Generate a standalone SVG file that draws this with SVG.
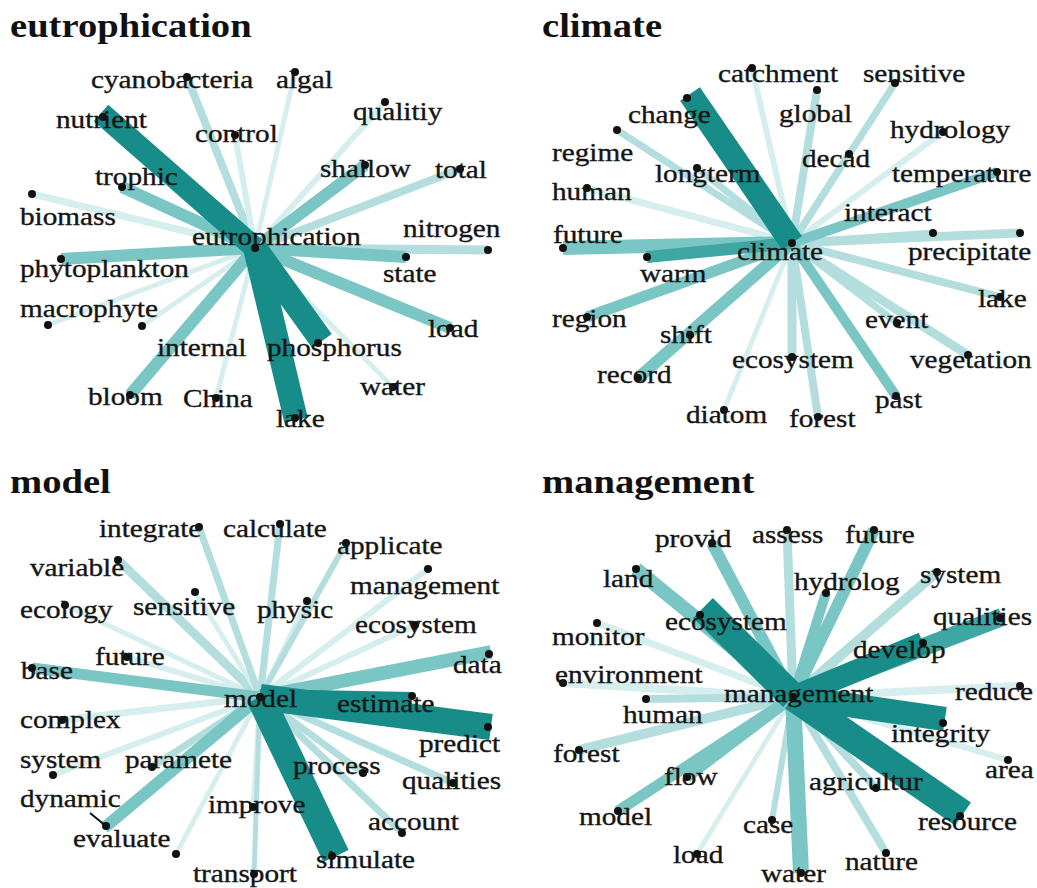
<svg xmlns="http://www.w3.org/2000/svg" width="1037" height="888" viewBox="0 0 1037 888">
<style>
text{font-family:"Liberation Serif","Times New Roman",serif;font-size:25px;fill:#151515;stroke:#151515;stroke-width:0.35}
.t{font-size:33px;font-weight:bold;fill:#111;stroke:none}
line{stroke-linecap:butt}
.D{stroke:#178c88}
.M2{stroke:#3ea7a4}
.M{stroke:#7ac6c5}
.L{stroke:#b4dede}
.X{stroke:#d7eeee}
circle{fill:#111}
</style>
<rect width="1037" height="888" fill="#fff"/>
<g id="titles">
<text class="t" transform="translate(10,37) scale(1.17,1)">eutrophication</text>
<text class="t" transform="translate(542,37) scale(1.17,1)">climate</text>
<text class="t" transform="translate(10,493) scale(1.17,1)">model</text>
<text class="t" transform="translate(542,493) scale(1.17,1)">management</text>
</g>
<g id="connectors">
<!-- Q1 eutrophication center 255,248 -->
<line class="X" x1="255" y1="248" x2="32" y2="194" stroke-width="7"/>
<line class="L" x1="255" y1="248" x2="187" y2="77" stroke-width="8"/>
<line class="X" x1="255" y1="248" x2="235" y2="135" stroke-width="6"/>
<line class="X" x1="255" y1="248" x2="295" y2="72" stroke-width="5"/>
<line class="X" x1="255" y1="248" x2="385" y2="102" stroke-width="6"/>
<line class="L" x1="255" y1="248" x2="460" y2="169" stroke-width="8"/>
<line class="L" x1="255" y1="248" x2="488" y2="250" stroke-width="9"/>
<line class="X" x1="255" y1="248" x2="48" y2="325" stroke-width="5"/>
<line class="X" x1="255" y1="248" x2="142" y2="326" stroke-width="5"/>
<line class="X" x1="255" y1="248" x2="216" y2="398" stroke-width="5"/>
<line class="X" x1="255" y1="248" x2="393" y2="387" stroke-width="5"/>
<line class="M" x1="255" y1="248" x2="122" y2="187" stroke-width="12"/>
<line class="M" x1="255" y1="248" x2="365" y2="165" stroke-width="12"/>
<line class="M" x1="255" y1="248" x2="61" y2="259" stroke-width="12"/>
<line class="M" x1="255" y1="248" x2="130" y2="395" stroke-width="12"/>
<line class="M" x1="255" y1="248" x2="406" y2="257" stroke-width="12"/>
<line class="M" x1="255" y1="248" x2="450" y2="328" stroke-width="12"/>
<line class="D" x1="255" y1="248" x2="101" y2="113" stroke-width="22"/>
<line class="D" x1="255" y1="248" x2="322" y2="341" stroke-width="24"/>
<line class="D" x1="255" y1="248" x2="296" y2="420" stroke-width="24"/>
<!-- Q2 climate center 792,243 -->
<line class="X" x1="792" y1="243" x2="943" y2="132" stroke-width="6"/>
<line class="L" x1="792" y1="243" x2="895" y2="83" stroke-width="7"/>
<line class="L" x1="792" y1="243" x2="849" y2="154" stroke-width="7"/>
<line class="L" x1="792" y1="243" x2="817" y2="90" stroke-width="8"/>
<line class="X" x1="792" y1="243" x2="752" y2="68" stroke-width="6"/>
<line class="L" x1="792" y1="243" x2="697" y2="168" stroke-width="7"/>
<line class="L" x1="792" y1="243" x2="617" y2="130" stroke-width="7"/>
<line class="X" x1="792" y1="243" x2="587" y2="188" stroke-width="7"/>
<line class="L" x1="792" y1="243" x2="933" y2="233" stroke-width="7"/>
<line class="L" x1="792" y1="243" x2="1020" y2="233" stroke-width="9"/>
<line class="L" x1="792" y1="243" x2="1000" y2="297" stroke-width="8"/>
<line class="L" x1="792" y1="243" x2="897" y2="323" stroke-width="7"/>
<line class="L" x1="792" y1="243" x2="968" y2="355" stroke-width="9"/>
<line class="L" x1="792" y1="243" x2="792" y2="357" stroke-width="9"/>
<line class="L" x1="792" y1="243" x2="818" y2="417" stroke-width="8"/>
<line class="X" x1="792" y1="243" x2="724" y2="410" stroke-width="5"/>
<line class="L" x1="792" y1="243" x2="690" y2="335" stroke-width="7"/>
<line class="M" x1="792" y1="243" x2="997" y2="172" stroke-width="10"/>
<line class="M" x1="792" y1="243" x2="896" y2="396" stroke-width="10"/>
<line class="M" x1="792" y1="243" x2="587" y2="317" stroke-width="11"/>
<line class="M" x1="792" y1="243" x2="638" y2="378" stroke-width="12"/>
<line class="M" x1="792" y1="243" x2="563" y2="248" stroke-width="14"/>
<line class="M2" x1="792" y1="243" x2="647" y2="257" stroke-width="12"/>
<line class="D" x1="792" y1="243" x2="690" y2="94" stroke-width="24"/>
<!-- Q3 model center 260,697 -->
<line class="X" x1="260" y1="697" x2="253" y2="807" stroke-width="5"/>
<line class="L" x1="260" y1="697" x2="254" y2="874" stroke-width="5"/>
<line class="X" x1="260" y1="697" x2="176" y2="854" stroke-width="5"/>
<line class="X" x1="260" y1="697" x2="62" y2="720" stroke-width="7"/>
<line class="X" x1="260" y1="697" x2="53" y2="775" stroke-width="6"/>
<line class="X" x1="260" y1="697" x2="127" y2="657" stroke-width="6"/>
<line class="X" x1="260" y1="697" x2="65" y2="605" stroke-width="5"/>
<line class="L" x1="260" y1="697" x2="118" y2="560" stroke-width="9"/>
<line class="X" x1="260" y1="697" x2="195" y2="592" stroke-width="5"/>
<line class="L" x1="260" y1="697" x2="199" y2="527" stroke-width="7"/>
<line class="L" x1="260" y1="697" x2="280" y2="524" stroke-width="7"/>
<line class="X" x1="260" y1="697" x2="307" y2="601" stroke-width="5"/>
<line class="L" x1="260" y1="697" x2="346" y2="543" stroke-width="6"/>
<line class="X" x1="260" y1="697" x2="428" y2="569" stroke-width="6"/>
<line class="X" x1="260" y1="697" x2="415" y2="625" stroke-width="6"/>
<line class="L" x1="260" y1="697" x2="152" y2="767" stroke-width="7"/>
<line class="L" x1="260" y1="697" x2="363" y2="773" stroke-width="7"/>
<line class="L" x1="260" y1="697" x2="453" y2="783" stroke-width="7"/>
<line class="L" x1="260" y1="697" x2="402" y2="833" stroke-width="7"/>
<line class="M" x1="260" y1="697" x2="491" y2="652" stroke-width="14"/>
<line class="M" x1="260" y1="697" x2="32" y2="668" stroke-width="11"/>
<line class="M" x1="260" y1="697" x2="104" y2="828" stroke-width="12"/>
<line class="D" x1="260" y1="697" x2="412" y2="700" stroke-width="16"/>
<line class="D" x1="260" y1="697" x2="491" y2="727" stroke-width="26"/>
<line class="D" x1="260" y1="697" x2="336" y2="856" stroke-width="28"/>
<line x1="90" y1="813" x2="106" y2="826" stroke="#111" stroke-width="2"/>
<!-- Q4 management center 793,697 -->
<line class="X" x1="793" y1="697" x2="563" y2="683" stroke-width="8"/>
<line class="X" x1="793" y1="697" x2="597" y2="623" stroke-width="7"/>
<line class="X" x1="793" y1="697" x2="1020" y2="686" stroke-width="8"/>
<line class="X" x1="793" y1="697" x2="1008" y2="760" stroke-width="6"/>
<line class="X" x1="793" y1="697" x2="697" y2="854" stroke-width="5"/>
<line class="L" x1="793" y1="697" x2="646" y2="699" stroke-width="8"/>
<line class="L" x1="793" y1="697" x2="579" y2="750" stroke-width="10"/>
<line class="L" x1="793" y1="697" x2="876" y2="788" stroke-width="8"/>
<line class="L" x1="793" y1="697" x2="886" y2="853" stroke-width="8"/>
<line class="L" x1="793" y1="697" x2="772" y2="820" stroke-width="6"/>
<line class="L" x1="793" y1="697" x2="937" y2="572" stroke-width="10"/>
<line class="L" x1="793" y1="697" x2="787" y2="530" stroke-width="9"/>
<line class="M" x1="793" y1="697" x2="826" y2="593" stroke-width="10"/>
<line class="M" x1="793" y1="697" x2="874" y2="530" stroke-width="12"/>
<line class="M" x1="793" y1="697" x2="712" y2="543" stroke-width="12"/>
<line class="M" x1="793" y1="697" x2="636" y2="569" stroke-width="14"/>
<line class="M" x1="793" y1="697" x2="687" y2="777" stroke-width="11"/>
<line class="M" x1="793" y1="697" x2="618" y2="811" stroke-width="11"/>
<line class="M" x1="793" y1="697" x2="801" y2="873" stroke-width="16"/>
<line class="M2" x1="793" y1="697" x2="1002" y2="617" stroke-width="18"/>
<line class="D" x1="793" y1="697" x2="923" y2="643" stroke-width="22"/>
<line class="D" x1="793" y1="697" x2="945" y2="719" stroke-width="24"/>
<line class="D" x1="793" y1="697" x2="963" y2="814" stroke-width="28"/>
<line class="D" x1="793" y1="697" x2="703" y2="608" stroke-width="28"/>
</g>
<!-- Q1 nodes -->
<g id="q1-eutrophication"><circle cx="255" cy="248" r="4"/><text transform="translate(192,245) scale(1.17,1)">eutrophication</text></g>
<g id="q1-cyanobacteria"><circle cx="187" cy="77" r="4"/><text transform="translate(91,88) scale(1.17,1)">cyanobacteria</text></g>
<g id="q1-algal"><circle cx="295" cy="72" r="4"/><text transform="translate(276,88) scale(1.17,1)">algal</text></g>
<g id="q1-qualitiy"><circle cx="385" cy="102" r="4"/><text transform="translate(353,120) scale(1.17,1)">qualitiy</text></g>
<g id="q1-nutrient"><circle cx="103" cy="117" r="4"/><text transform="translate(56,128) scale(1.17,1)">nutrient</text></g>
<g id="q1-control"><circle cx="235" cy="135" r="4"/><text transform="translate(195,142) scale(1.17,1)">control</text></g>
<g id="q1-shallow"><circle cx="365" cy="165" r="4"/><text transform="translate(320,177) scale(1.17,1)">shallow</text></g>
<g id="q1-total"><circle cx="460" cy="169" r="4"/><text transform="translate(435,178) scale(1.17,1)">total</text></g>
<g id="q1-trophic"><circle cx="122" cy="187" r="4"/><text transform="translate(95,185) scale(1.17,1)">trophic</text></g>
<g id="q1-biomass"><circle cx="32" cy="194" r="4"/><text transform="translate(20,225) scale(1.17,1)">biomass</text></g>
<g id="q1-nitrogen"><circle cx="488" cy="250" r="4"/><text transform="translate(403,237) scale(1.17,1)">nitrogen</text></g>
<g id="q1-phytoplankton"><circle cx="61" cy="259" r="4"/><text transform="translate(20,277) scale(1.17,1)">phytoplankton</text></g>
<g id="q1-state"><circle cx="406" cy="257" r="4"/><text transform="translate(383,282) scale(1.17,1)">state</text></g>
<g id="q1-macrophyte"><circle cx="48" cy="325" r="4"/><text transform="translate(20,317) scale(1.17,1)">macrophyte</text></g>
<g id="q1-internal"><circle cx="142" cy="326" r="4"/><text transform="translate(157,356) scale(1.17,1)">internal</text></g>
<g id="q1-phosphorus"><circle cx="318" cy="343" r="4"/><text transform="translate(267,356) scale(1.17,1)">phosphorus</text></g>
<g id="q1-load"><circle cx="450" cy="328" r="4"/><text transform="translate(428,337) scale(1.17,1)">load</text></g>
<g id="q1-water"><circle cx="393" cy="387" r="4"/><text transform="translate(360,395) scale(1.17,1)">water</text></g>
<g id="q1-bloom"><circle cx="130" cy="395" r="4"/><text transform="translate(88,405) scale(1.17,1)">bloom</text></g>
<g id="q1-China"><circle cx="216" cy="398" r="4"/><text transform="translate(183,407) scale(1.17,1)">China</text></g>
<g id="q1-lake"><circle cx="295" cy="418" r="4"/><text transform="translate(276,427) scale(1.17,1)">lake</text></g>
<!-- Q2 nodes -->
<g id="q2-climate"><circle cx="792" cy="243" r="4"/><text transform="translate(737,260) scale(1.17,1)">climate</text></g>
<g id="q2-catchment"><circle cx="752" cy="68" r="4"/><text transform="translate(718,82) scale(1.17,1)">catchment</text></g>
<g id="q2-sensitive"><circle cx="895" cy="83" r="4"/><text transform="translate(863,82) scale(1.17,1)">sensitive</text></g>
<g id="q2-change"><circle cx="687" cy="98" r="4"/><text transform="translate(628,123) scale(1.17,1)">change</text></g>
<g id="q2-global"><circle cx="817" cy="90" r="4"/><text transform="translate(779,122) scale(1.17,1)">global</text></g>
<g id="q2-hydrology"><circle cx="943" cy="132" r="4"/><text transform="translate(890,138) scale(1.17,1)">hydrology</text></g>
<g id="q2-regime"><circle cx="617" cy="130" r="4"/><text transform="translate(552,161) scale(1.17,1)">regime</text></g>
<g id="q2-decad"><circle cx="849" cy="154" r="4"/><text transform="translate(802,167) scale(1.17,1)">decad</text></g>
<g id="q2-longterm"><circle cx="697" cy="168" r="4"/><text transform="translate(655,182) scale(1.17,1)">longterm</text></g>
<g id="q2-temperature"><circle cx="997" cy="172" r="4"/><text transform="translate(892,182) scale(1.17,1)">temperature</text></g>
<g id="q2-human"><circle cx="587" cy="188" r="4"/><text transform="translate(552,200) scale(1.17,1)">human</text></g>
<g id="q2-interact"><circle cx="933" cy="233" r="4"/><text transform="translate(844,221) scale(1.17,1)">interact</text></g>
<g id="q2-future"><circle cx="563" cy="248" r="4"/><text transform="translate(553,243) scale(1.17,1)">future</text></g>
<g id="q2-precipitate"><circle cx="1020" cy="233" r="4"/><text transform="translate(908,260) scale(1.17,1)">precipitate</text></g>
<g id="q2-warm"><circle cx="647" cy="257" r="4"/><text transform="translate(640,282) scale(1.17,1)">warm</text></g>
<g id="q2-lake"><circle cx="1000" cy="297" r="4"/><text transform="translate(978,307) scale(1.17,1)">lake</text></g>
<g id="q2-region"><circle cx="587" cy="317" r="4"/><text transform="translate(552,327) scale(1.17,1)">region</text></g>
<g id="q2-event"><circle cx="897" cy="323" r="4"/><text transform="translate(865,328) scale(1.17,1)">event</text></g>
<g id="q2-shift"><circle cx="690" cy="335" r="4"/><text transform="translate(660,343) scale(1.17,1)">shift</text></g>
<g id="q2-ecosystem"><circle cx="792" cy="357" r="4"/><text transform="translate(732,368) scale(1.17,1)">ecosystem</text></g>
<g id="q2-vegetation"><circle cx="968" cy="355" r="4"/><text transform="translate(910,368) scale(1.17,1)">vegetation</text></g>
<g id="q2-record"><circle cx="638" cy="378" r="4"/><text transform="translate(597,383) scale(1.17,1)">record</text></g>
<g id="q2-past"><circle cx="896" cy="396" r="4"/><text transform="translate(875,408) scale(1.17,1)">past</text></g>
<g id="q2-diatom"><circle cx="724" cy="410" r="4"/><text transform="translate(686,423) scale(1.17,1)">diatom</text></g>
<g id="q2-forest"><circle cx="818" cy="417" r="4"/><text transform="translate(789,427) scale(1.17,1)">forest</text></g>
<!-- Q3 nodes -->
<g id="q3-model"><circle cx="260" cy="697" r="4"/><text transform="translate(224,707) scale(1.17,1)">model</text></g>
<g id="q3-integrate"><circle cx="199" cy="527" r="4"/><text transform="translate(99,537) scale(1.17,1)">integrate</text></g>
<g id="q3-calculate"><circle cx="280" cy="524" r="4"/><text transform="translate(223,537) scale(1.17,1)">calculate</text></g>
<g id="q3-applicate"><circle cx="346" cy="543" r="4"/><text transform="translate(337,554) scale(1.17,1)">applicate</text></g>
<g id="q3-variable"><circle cx="118" cy="560" r="4"/><text transform="translate(30,576) scale(1.17,1)">variable</text></g>
<g id="q3-management"><circle cx="428" cy="569" r="4"/><text transform="translate(350,594) scale(1.17,1)">management</text></g>
<g id="q3-sensitive"><circle cx="195" cy="592" r="4"/><text transform="translate(133,615) scale(1.17,1)">sensitive</text></g>
<g id="q3-ecology"><circle cx="65" cy="605" r="4"/><text transform="translate(20,618) scale(1.17,1)">ecology</text></g>
<g id="q3-physic"><circle cx="307" cy="601" r="4"/><text transform="translate(257,618) scale(1.17,1)">physic</text></g>
<g id="q3-ecosystem"><circle cx="415" cy="625" r="4"/><text transform="translate(355,633) scale(1.17,1)">ecosystem</text></g>
<g id="q3-future"><circle cx="127" cy="657" r="4"/><text transform="translate(95,665) scale(1.17,1)">future</text></g>
<g id="q3-base"><circle cx="32" cy="668" r="4"/><text transform="translate(21,679) scale(1.17,1)">base</text></g>
<g id="q3-data"><circle cx="489" cy="654" r="4"/><text transform="translate(453,673) scale(1.17,1)">data</text></g>
<g id="q3-estimate"><circle cx="412" cy="696" r="4"/><text transform="translate(337,712) scale(1.17,1)">estimate</text></g>
<g id="q3-complex"><circle cx="62" cy="720" r="4"/><text transform="translate(20,728) scale(1.17,1)">complex</text></g>
<g id="q3-predict"><circle cx="488" cy="727" r="4"/><text transform="translate(419,752) scale(1.17,1)">predict</text></g>
<g id="q3-system"><circle cx="53" cy="775" r="4"/><text transform="translate(20,768) scale(1.17,1)">system</text></g>
<g id="q3-paramete"><circle cx="152" cy="767" r="4"/><text transform="translate(125,768) scale(1.17,1)">paramete</text></g>
<g id="q3-process"><circle cx="363" cy="773" r="4"/><text transform="translate(293,774) scale(1.17,1)">process</text></g>
<g id="q3-qualities"><circle cx="453" cy="783" r="4"/><text transform="translate(402,789) scale(1.17,1)">qualities</text></g>
<g id="q3-dynamic"><text transform="translate(20,807) scale(1.17,1)">dynamic</text></g>
<g id="q3-improve"><circle cx="253" cy="807" r="4"/><text transform="translate(208,813) scale(1.17,1)">improve</text></g>
<g id="q3-account"><circle cx="402" cy="833" r="4"/><text transform="translate(368,830) scale(1.17,1)">account</text></g>
<g id="q3-evaluate"><circle cx="106" cy="826" r="4"/><text transform="translate(73,847) scale(1.17,1)">evaluate</text></g>
<g id="q3-unlabeled"><circle cx="176" cy="854" r="4"/></g>
<g id="q3-simulate"><circle cx="332" cy="856" r="4"/><text transform="translate(316,868) scale(1.17,1)">simulate</text></g>
<g id="q3-transport"><circle cx="254" cy="874" r="4"/><text transform="translate(193,882) scale(1.17,1)">transport</text></g>
<!-- Q4 nodes -->
<g id="q4-management"><circle cx="793" cy="697" r="4"/><text transform="translate(724,702) scale(1.17,1)">management</text></g>
<g id="q4-provid"><circle cx="712" cy="543" r="4"/><text transform="translate(655,547) scale(1.17,1)">provid</text></g>
<g id="q4-assess"><circle cx="787" cy="530" r="4"/><text transform="translate(752,543) scale(1.17,1)">assess</text></g>
<g id="q4-future"><circle cx="874" cy="530" r="4"/><text transform="translate(845,543) scale(1.17,1)">future</text></g>
<g id="q4-land"><circle cx="636" cy="569" r="4"/><text transform="translate(603,587) scale(1.17,1)">land</text></g>
<g id="q4-hydrolog"><circle cx="826" cy="593" r="4"/><text transform="translate(794,590) scale(1.17,1)">hydrolog</text></g>
<g id="q4-system"><circle cx="937" cy="572" r="4"/><text transform="translate(920,583) scale(1.17,1)">system</text></g>
<g id="q4-ecosystem"><circle cx="700" cy="615" r="4"/><text transform="translate(665,630) scale(1.17,1)">ecosystem</text></g>
<g id="q4-monitor"><circle cx="597" cy="623" r="4"/><text transform="translate(552,645) scale(1.17,1)">monitor</text></g>
<g id="q4-qualities"><circle cx="1000" cy="618" r="4"/><text transform="translate(933,625) scale(1.17,1)">qualities</text></g>
<g id="q4-develop"><circle cx="923" cy="643" r="4"/><text transform="translate(853,658) scale(1.17,1)">develop</text></g>
<g id="q4-environment"><circle cx="563" cy="683" r="4"/><text transform="translate(555,683) scale(1.17,1)">environment</text></g>
<g id="q4-reduce"><circle cx="1020" cy="686" r="4"/><text transform="translate(955,700) scale(1.17,1)">reduce</text></g>
<g id="q4-human"><circle cx="646" cy="699" r="4"/><text transform="translate(623,723) scale(1.17,1)">human</text></g>
<g id="q4-integrity"><circle cx="943" cy="723" r="4"/><text transform="translate(891,742) scale(1.17,1)">integrity</text></g>
<g id="q4-forest"><circle cx="579" cy="750" r="4"/><text transform="translate(553,762) scale(1.17,1)">forest</text></g>
<g id="q4-area"><circle cx="1008" cy="760" r="4"/><text transform="translate(985,778) scale(1.17,1)">area</text></g>
<g id="q4-flow"><circle cx="687" cy="777" r="4"/><text transform="translate(664,785) scale(1.17,1)">flow</text></g>
<g id="q4-agricultur"><circle cx="876" cy="788" r="4"/><text transform="translate(809,790) scale(1.17,1)">agricultur</text></g>
<g id="q4-model"><circle cx="618" cy="811" r="4"/><text transform="translate(579,825) scale(1.17,1)">model</text></g>
<g id="q4-resource"><circle cx="960" cy="816" r="4"/><text transform="translate(918,830) scale(1.17,1)">resource</text></g>
<g id="q4-case"><circle cx="772" cy="820" r="4"/><text transform="translate(743,833) scale(1.17,1)">case</text></g>
<g id="q4-load"><circle cx="697" cy="854" r="4"/><text transform="translate(673,863) scale(1.17,1)">load</text></g>
<g id="q4-nature"><circle cx="886" cy="853" r="4"/><text transform="translate(845,870) scale(1.17,1)">nature</text></g>
<g id="q4-water"><circle cx="801" cy="873" r="4"/><text transform="translate(761,882) scale(1.17,1)">water</text></g>
</svg>
